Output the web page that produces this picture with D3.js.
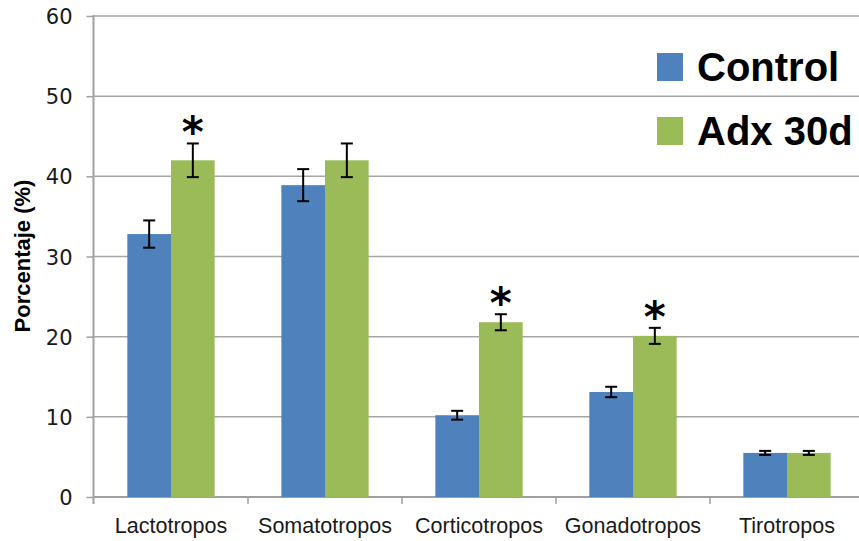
<!DOCTYPE html>
<html>
<head>
<meta charset="utf-8">
<script src="https://cdn.jsdelivr.net/npm/d3@7"></script>
<style>
  html, body { margin: 0; padding: 0; background: #fff; }
  svg { display: block; }
</style>
</head>
<body>
<svg id="chart" width="859" height="541"></svg>
<script>
// ---- data ----
const categories = ["Lactotropos", "Somatotropos", "Corticotropos", "Gonadotropos", "Tirotropos"];
const seriesNames = ["Control", "Adx 30d"];
const controlValues = [32.8, 38.9, 10.2, 13.1, 5.5];
const controlErrors = [1.7, 2.0, 0.55, 0.65, 0.25];
const adxValues = [42.0, 42.0, 21.8, 20.1, 5.5];
const adxErrors = [2.1, 2.1, 1.0, 1.0, 0.25];
const significant = [true, false, true, true, false];
const yTicks = [0, 10, 20, 30, 40, 50, 60];
const yTitle = "Porcentaje (%)";
const colors = ["#4f81bd", "#9bbb59"];

const seriesValues = [controlValues, adxValues];
const seriesErrors = [controlErrors, adxErrors];

const svg = d3.select("#chart");
const W = 859;

const x = d3.scaleBand().domain(categories).range([94, 864]).paddingInner(0).paddingOuter(0);
const bw = x.bandwidth();
const xs = d3.scaleBand().domain(seriesNames).range([bw * 0.2165, bw * 0.7835]).padding(0);
const y = d3.scaleLinear().domain([0, 60]).range([497, 16]);

// gridlines
svg.append("g").selectAll("line").data(yTicks.filter(d => d > 0)).join("line")
  .attr("x1", 94).attr("x2", W)
  .attr("y1", d => y(d)).attr("y2", d => y(d))
  .attr("stroke", "#a6a6a6").attr("stroke-width", 1.5);

// y axis
const yAxis = svg.append("g").attr("transform", "translate(93.5,0)")
  .call(d3.axisLeft(y).tickValues(yTicks).tickSize(7).tickPadding(14).tickFormat(d3.format("d")));
yAxis.select(".domain").remove();
yAxis.selectAll(".tick line").attr("stroke", "#a0a0a0").attr("stroke-width", 1.5);
yAxis.selectAll(".tick text")
  .attr("fill", "#1a1a1a")
  .style("font-family", "'DejaVu Sans', sans-serif")
  .style("font-size", "21px")
  .attr("dy", "0.36em");
svg.append("line").attr("x1", 93.5).attr("x2", 93.5).attr("y1", 15).attr("y2", 504)
  .attr("stroke", "#a0a0a0").attr("stroke-width", 2);

// x axis
svg.append("line").attr("x1", 93).attr("x2", W).attr("y1", y(0)).attr("y2", y(0))
  .attr("stroke", "#a0a0a0").attr("stroke-width", 1.8);
svg.append("g").selectAll("line").data(categories.slice(1)).join("line")
  .attr("x1", d => x(d)).attr("x2", d => x(d))
  .attr("y1", y(0)).attr("y2", y(0) + 7)
  .attr("stroke", "#a0a0a0").attr("stroke-width", 1.5);
svg.append("g").selectAll("text").data(categories).join("text")
  .attr("x", d => x(d) + bw / 2)
  .attr("y", 533)
  .attr("text-anchor", "middle")
  .attr("fill", "#1a1a1a")
  .style("font-family", "'Liberation Sans', Arial, sans-serif")
  .style("font-size", "21.5px")
  .text(d => d);

// y title
svg.append("text")
  .attr("transform", "translate(30,256) rotate(-90)")
  .attr("text-anchor", "middle")
  .attr("fill", "#000")
  .style("font-family", "'Liberation Sans', Arial, sans-serif")
  .style("font-weight", "bold")
  .style("font-size", "22px")
  .text(yTitle);

// bars
const barsG = svg.append("g");
seriesNames.forEach((s, si) => {
  const g = barsG.append("g");
  g.selectAll("rect").data(categories).join("rect")
    .attr("x", d => x(d) + xs(s))
    .attr("y", (d, i) => y(seriesValues[si][i]))
    .attr("width", xs.bandwidth())
    .attr("height", (d, i) => y(0) - y(seriesValues[si][i]))
    .attr("fill", colors[si]);
  // error bars
  const eg = g.append("g").attr("stroke", "#000").attr("stroke-width", 2);
  categories.forEach((c, i) => {
    const cx = x(c) + xs(s) + xs.bandwidth() / 2;
    const v = seriesValues[si][i], e = seriesErrors[si][i];
    eg.append("line").attr("x1", cx).attr("x2", cx).attr("y1", y(v + e)).attr("y2", y(v - e));
    eg.append("line").attr("x1", cx - 6).attr("x2", cx + 6).attr("y1", y(v + e)).attr("y2", y(v + e));
    eg.append("line").attr("x1", cx - 6).attr("x2", cx + 6).attr("y1", y(v - e)).attr("y2", y(v - e));
  });
});

// significance stars
svg.append("g").selectAll("text").data(categories.filter((c, i) => significant[i])).join("text")
  .attr("x", d => x(d) + xs("Adx 30d") + xs.bandwidth() / 2)
  .attr("y", d => { const i = categories.indexOf(d); return y(adxValues[i] + adxErrors[i]) + 4; })
  .attr("text-anchor", "middle")
  .attr("fill", "#000")
  .style("font-family", "'DejaVu Sans', sans-serif")
  .style("font-weight", "bold")
  .style("font-size", "42px")
  .text("*");

// legend
const legend = svg.append("g");
const legendY = [81, 145];
seriesNames.forEach((s, si) => {
  legend.append("rect").attr("x", 657).attr("y", legendY[si] - 28).attr("width", 26).attr("height", 28)
    .attr("fill", colors[si]);
  legend.append("text").attr("x", 697).attr("y", legendY[si])
    .attr("fill", "#000")
    .style("font-family", "'Liberation Sans', Arial, sans-serif")
    .style("font-weight", "bold")
    .style("font-size", "40px")
    .text(s);
});
</script>
</body>
</html>
